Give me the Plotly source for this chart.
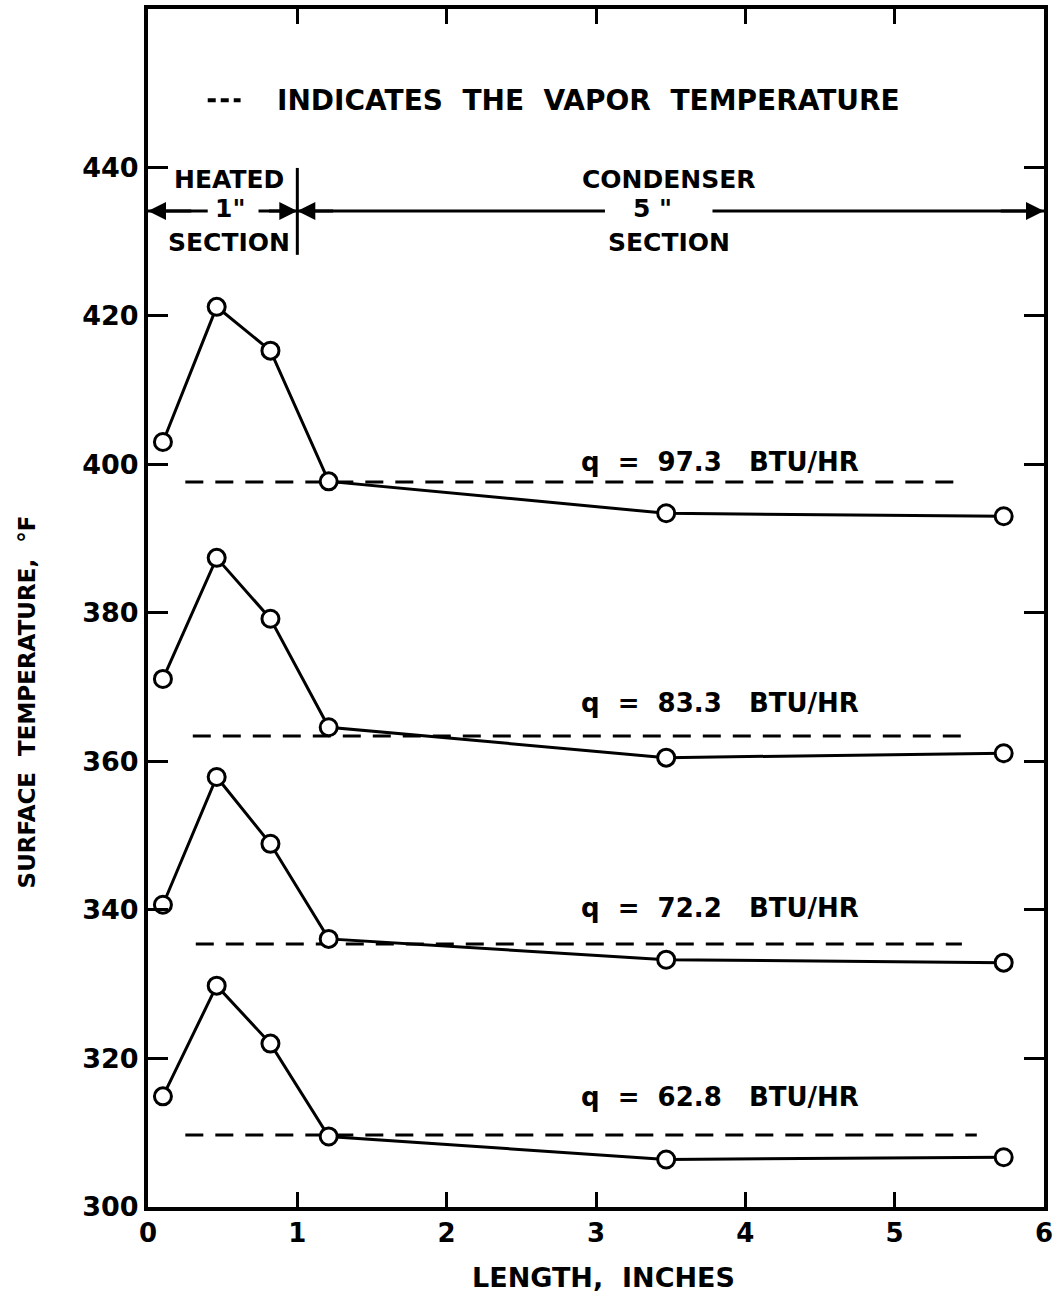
import plotly.graph_objects as go

# Thermocouple stations along the tube (inches from the heated end)
length_in = [0.10, 0.46, 0.82, 1.21, 3.47, 5.73]

# Surface temperatures (deg F) for each heat input
temp_973 = [403.0, 421.2, 415.3, 397.7, 393.4, 393.0]
temp_833 = [371.1, 387.4, 379.2, 364.6, 360.5, 361.1]
temp_722 = [340.7, 357.9, 348.9, 336.1, 333.3, 332.9]
temp_628 = [314.9, 329.8, 322.0, 309.5, 306.4, 306.7]

# Vapor temperature (deg F) and the span over which it is drawn
vapor_973 = 397.6
vapor_833 = 363.4
vapor_722 = 335.4
vapor_628 = 309.7
vapor_x_start = [0.25, 0.30, 0.32, 0.25]
vapor_x_end = [5.45, 5.45, 5.45, 5.55]

heat_labels = ["q  =  97.3   BTU/HR", "q  =  83.3   BTU/HR", "q  =  72.2   BTU/HR", "q  =  62.8   BTU/HR"]
label_x = [3.83, 3.83, 3.83, 3.83]
label_y = [400.3, 367.8, 340.3, 314.8]

x_ticks = [0, 1, 2, 3, 4, 5, 6]
y_ticks = [300, 320, 340, 360, 380, 400, 420, 440]

FONT = "DejaVu Sans"
INK = "black"

series = [temp_973, temp_833, temp_722, temp_628]
vapors = [vapor_973, vapor_833, vapor_722, vapor_628]

fig = go.Figure()

for i, (temps, tv) in enumerate(zip(series, vapors)):
    fig.add_trace(go.Scatter(
        x=[vapor_x_start[i], vapor_x_end[i]], y=[tv, tv], mode="lines",
        line=dict(color=INK, width=3, dash="18px,12px"),
        showlegend=False, hoverinfo="skip",
    ))
    fig.add_trace(go.Scatter(
        x=length_in, y=temps, mode="lines+markers",
        line=dict(color=INK, width=3),
        marker=dict(symbol="circle", size=17, color="white",
                    line=dict(color=INK, width=3)),
        showlegend=False,
    ))
    fig.add_annotation(x=label_x[i], y=label_y[i], text="<b>" + heat_labels[i] + "</b>",
                       showarrow=False, font=dict(family=FONT, size=26, color=INK),
                       xanchor="center", yanchor="middle")

# Header note with its dash sample
fig.add_trace(go.Scatter(
    x=[0.40, 0.62], y=[449.0, 449.0], mode="lines",
    line=dict(color=INK, width=4, dash="8px,5px"),
    showlegend=False, hoverinfo="skip",
))
fig.add_annotation(x=2.95, y=449.0, text="<b>INDICATES  THE  VAPOR  TEMPERATURE</b>",
                   showarrow=False, font=dict(family=FONT, size=28, color=INK),
                   xanchor="center", yanchor="middle")

# Section dimension markers
arrow_y = 434.1
fig.add_shape(type="line", x0=1.0, x1=1.0, y0=428.2, y1=439.9,
              line=dict(color=INK, width=3))
segments = [(0.0, 0.40), (0.74, 1.0), (1.0, 3.06), (3.78, 6.0)]
for x0, x1 in segments:
    fig.add_shape(type="line", x0=x0, x1=x1, y0=arrow_y, y1=arrow_y,
                  line=dict(color=INK, width=3))
for tip, tail in [(0.0, 0.3), (1.0, 0.8), (1.0, 1.25), (6.0, 5.7)]:
    fig.add_annotation(x=tip, y=arrow_y, ax=tail, ay=arrow_y,
                       xref="x", yref="y", axref="x", ayref="y",
                       text="", showarrow=True, arrowhead=2, arrowsize=1.2,
                       arrowwidth=3, arrowcolor=INK)

section_text = [
    (0.54, 438.3, "HEATED"), (0.55, 434.4, "1\""), (0.54, 429.8, "SECTION"),
    (3.49, 438.3, "CONDENSER"), (3.38, 434.4, "5 \""), (3.49, 429.8, "SECTION"),
]
for x, y, t in section_text:
    fig.add_annotation(x=x, y=y, text="<b>" + t + "</b>", showarrow=False,
                       font=dict(family=FONT, size=25, color=INK),
                       xanchor="center", yanchor="middle", bgcolor="white")

# Axis titles
fig.add_annotation(xref="paper", yref="paper", x=0.508, y=-0.059,
                   text="<b>LENGTH,  INCHES</b>", showarrow=False,
                   font=dict(family=FONT, size=27, color=INK),
                   xanchor="center", yanchor="middle")
fig.add_annotation(xref="paper", yref="paper", x=-0.134, y=0.422,
                   text="<b>SURFACE  TEMPERATURE,  °F</b>", showarrow=False, textangle=-90,
                   font=dict(family=FONT, size=23, color=INK),
                   xanchor="center", yanchor="middle")

fig.update_layout(
    width=1058, height=1297,
    margin=dict(l=148, r=13, t=5, b=90),
    paper_bgcolor="white", plot_bgcolor="white",
    font=dict(family=FONT, color=INK),
    xaxis=dict(range=[0, 6], tickvals=x_ticks, ticktext=[f"<b>{v}</b>" for v in x_ticks],
               ticks="inside", ticklen=15, tickwidth=3, tickcolor=INK,
               showline=True, linewidth=4, linecolor=INK, mirror="ticks",
               showgrid=False, zeroline=False,
               tickfont=dict(family=FONT, size=26, color=INK)),
    yaxis=dict(range=[300, 461.3], tickvals=y_ticks, ticktext=[f"<b>{v}</b>" for v in y_ticks],
               ticks="inside", ticklen=20, tickwidth=3, tickcolor=INK,
               showline=True, linewidth=4, linecolor=INK, mirror="ticks",
               showgrid=False, zeroline=False,
               tickfont=dict(family=FONT, size=27, color=INK)),
)

fig.write_html("out.html")
